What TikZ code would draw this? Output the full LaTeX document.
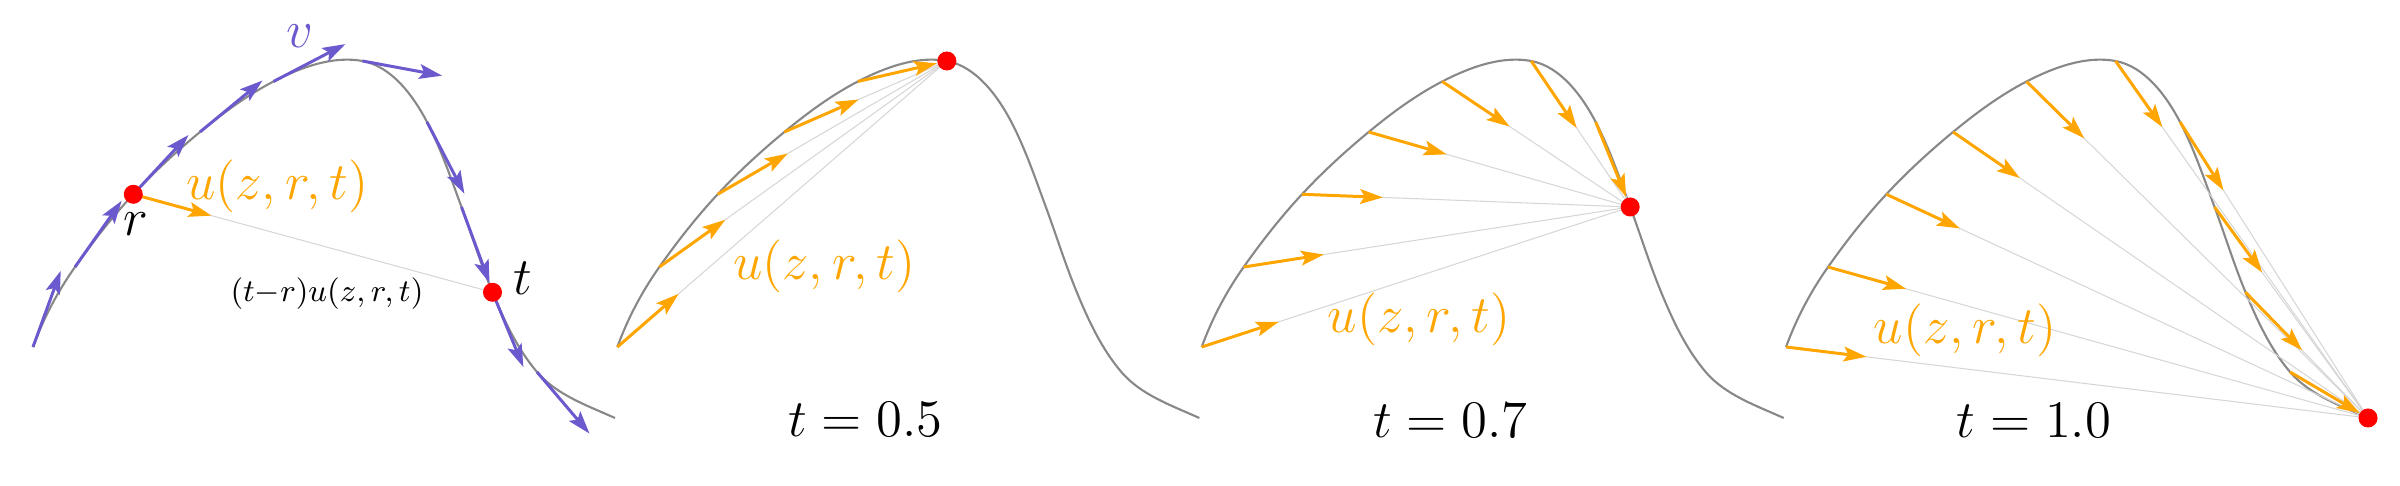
\documentclass[tikz,border=0pt]{standalone}
\usetikzlibrary{arrows.meta,calc}
\DeclareFontShape{OML}{cmm}{m}{it}{<-5.5>cmmi5<5.5-6.5>cmmi6<6.5-7.5>cmmi7<7.5-8.5>cmmi8<8.5-9.5>cmmi9<9.5-11>cmmi10<11->cmmi12}{}
\DeclareFontShape{OT1}{cmr}{m}{n}{<-5.5>cmr5<5.5-6.5>cmr6<6.5-7.5>cmr7<7.5-8.5>cmr8<8.5-9.5>cmr9<9.5-11>cmr10<11->cmr12}{}
\DeclareFontShape{OMS}{cmsy}{m}{n}{<-5.5>cmsy5<5.5-6.5>cmsy6<6.5-7.5>cmsy7<7.5-8.5>cmsy8<8.5-9.5>cmsy9<9.5->cmsy10}{}
\definecolor{vblue}{HTML}{6A5ACD}
\definecolor{uorange}{HTML}{FFA500}
\definecolor{curvegray}{HTML}{888888}
\definecolor{chordgray}{HTML}{D6D6D6}
\newcommand\thecurve{%
(33,347) .. controls (43.3,318.7) and (57.6,291.6) .. (75,267)
.. controls (92.9,241.6) and (112.1,217.1) .. (133.3,194.3)
.. controls (154.0,172.0) and (176.6,151.3) .. (200,132)
.. controls (222.9,113.1) and (247.1,95.2) .. (273.5,81.5)
.. controls (300.5,67.5) and (332.6,55.5) .. (362.5,61)
.. controls (391.6,66.4) and (413.3,95.7) .. (427,122)
.. controls (441.1,149.1) and (450.9,178.3) .. (461.5,207)
.. controls (472.0,235.4) and (480.9,264.3) .. (492.5,292.3)
.. controls (504.1,320.4) and (517.3,348.9) .. (537,372)
.. controls (556.6,395.0) and (587.5,405.6) .. (615,418)}
\newcommand\setpts[1]{%
\coordinate (#10) at (33,347);
\coordinate (#11) at (75,267);
\coordinate (#12) at (133.3,194.3);
\coordinate (#13) at (200,132);
\coordinate (#14) at (273.5,81.5);
\coordinate (#15) at (362.5,61);
\coordinate (#16) at (427,122);
\coordinate (#17) at (461.5,207);
\coordinate (#18) at (492.5,292.3);
\coordinate (#19) at (537,372);
\coordinate (#110) at (615,418);}
\tikzset{
  curve/.style={draw=curvegray, line width=0.6pt},
  chord/.style={draw=chordgray, line width=0.3pt},
  tipstyle/.style={-{Stealth[length=6.5pt,width=4.2pt,inset=1.3pt]}},
  varrow/.style={draw=vblue, line width=0.85pt, tipstyle},
  uarrow/.style={draw=uorange, line width=0.85pt, tipstyle},
  dot/.style={circle, fill=red, inner sep=0pt, minimum size=0.19cm},
  lbl/.style={font=\fontsize{15}{18}\selectfont, inner sep=0pt, anchor=base},
  smalllbl/.style={font=\fontsize{9}{11}\selectfont, inner sep=0pt, anchor=base},
}
\begin{document}
\begin{tikzpicture}[x=0.01cm,y=-0.01cm]
\useasboundingbox (0,0) rectangle (2400,486);
% panel 1
\begin{scope}
  \draw[curve] \thecurve;
  \setpts{a}
\end{scope}
% panel 2
\begin{scope}[xshift=5.84cm]
  \draw[curve] \thecurve;
  \setpts{b}
\end{scope}
% panel 3
\begin{scope}[xshift=11.68cm]
  \draw[curve] \thecurve;
  \setpts{c}
\end{scope}
% panel 4
\begin{scope}[xshift=17.52cm]
  \draw[curve] \thecurve;
  \setpts{d}
\end{scope}

% panel 1 content
\draw[chord] (a2) -- (a8);
\draw[varrow] (a0) -- ++(27.7,-76.1);
\draw[varrow] (a1) -- ++(46.7,-66.2);
\draw[varrow] (a2) -- ++(55.2,-59.3);
\draw[varrow] (a3) -- ++(62.5,-51.5);
\draw[varrow] (a4) -- ++(71.9,-37.4);
\draw[varrow] (a5) -- ++(79.6,14.7);
\draw[varrow] (a6) -- ++(37.4,71.8);
\draw[varrow] (a7) -- ++(28.0,76.0);
\draw[varrow] (a8) -- ++(30.9,74.8);
\draw[varrow] (a9) -- ++(52.5,61.6);
\draw[uarrow] (a2) -- ($(a2)!0.81cm!(a8)$);
\node[dot] (rdot) at (a2) {};
\node[dot] (tdot) at (a8) {};
\node[lbl, text=vblue] (vlab) at (300,48) {$v$};
\node[lbl, text=uorange] (ulab1) at (277.5,200) {$u(z,r,t)$};
\node[lbl] (rlab) at (136,236) {$r$};
\node[lbl] (tlab) at (523,295) {$t$};
\node[smalllbl] (dlab) at (327,302) {$(t{-}r)u(z,r,t)$};

% panel 2 content
\foreach \i in {0,...,4} {
  \draw[chord] (b\i) -- (b5);
  \draw[uarrow] (b\i) -- ($(b\i)!0.81cm!(b5)$);
}
\node[dot] (bdot) at (b5) {};
\node[lbl, text=uorange] (ulab2) at (824.5,280) {$u(z,r,t)$};
\node[lbl] (tval2) at (865.6,437) {$t=0.5$};

% panel 3 content
\foreach \i in {0,...,6} {
  \draw[chord] (c\i) -- (c7);
  \draw[uarrow] (c\i) -- ($(c\i)!0.81cm!(c7)$);
}
\node[dot] (cdot) at (c7) {};
\node[lbl, text=uorange] (ulab3) at (1419,333) {$u(z,r,t)$};
\node[lbl] (tval3) at (1450.5,438) {$t=0.7$};

% panel 4 content
\foreach \i in {0,...,9} {
  \draw[chord] (d\i) -- (d10);
  \draw[uarrow] (d\i) -- ($(d\i)!0.81cm!(d10)$);
}
\node[dot] (ddot) at (d10) {};
\node[lbl, text=uorange] (ulab4) at (1965,344) {$u(z,r,t)$};
\node[lbl] (tval4) at (2034,438) {$t=1.0$};
\end{tikzpicture}
\end{document}
